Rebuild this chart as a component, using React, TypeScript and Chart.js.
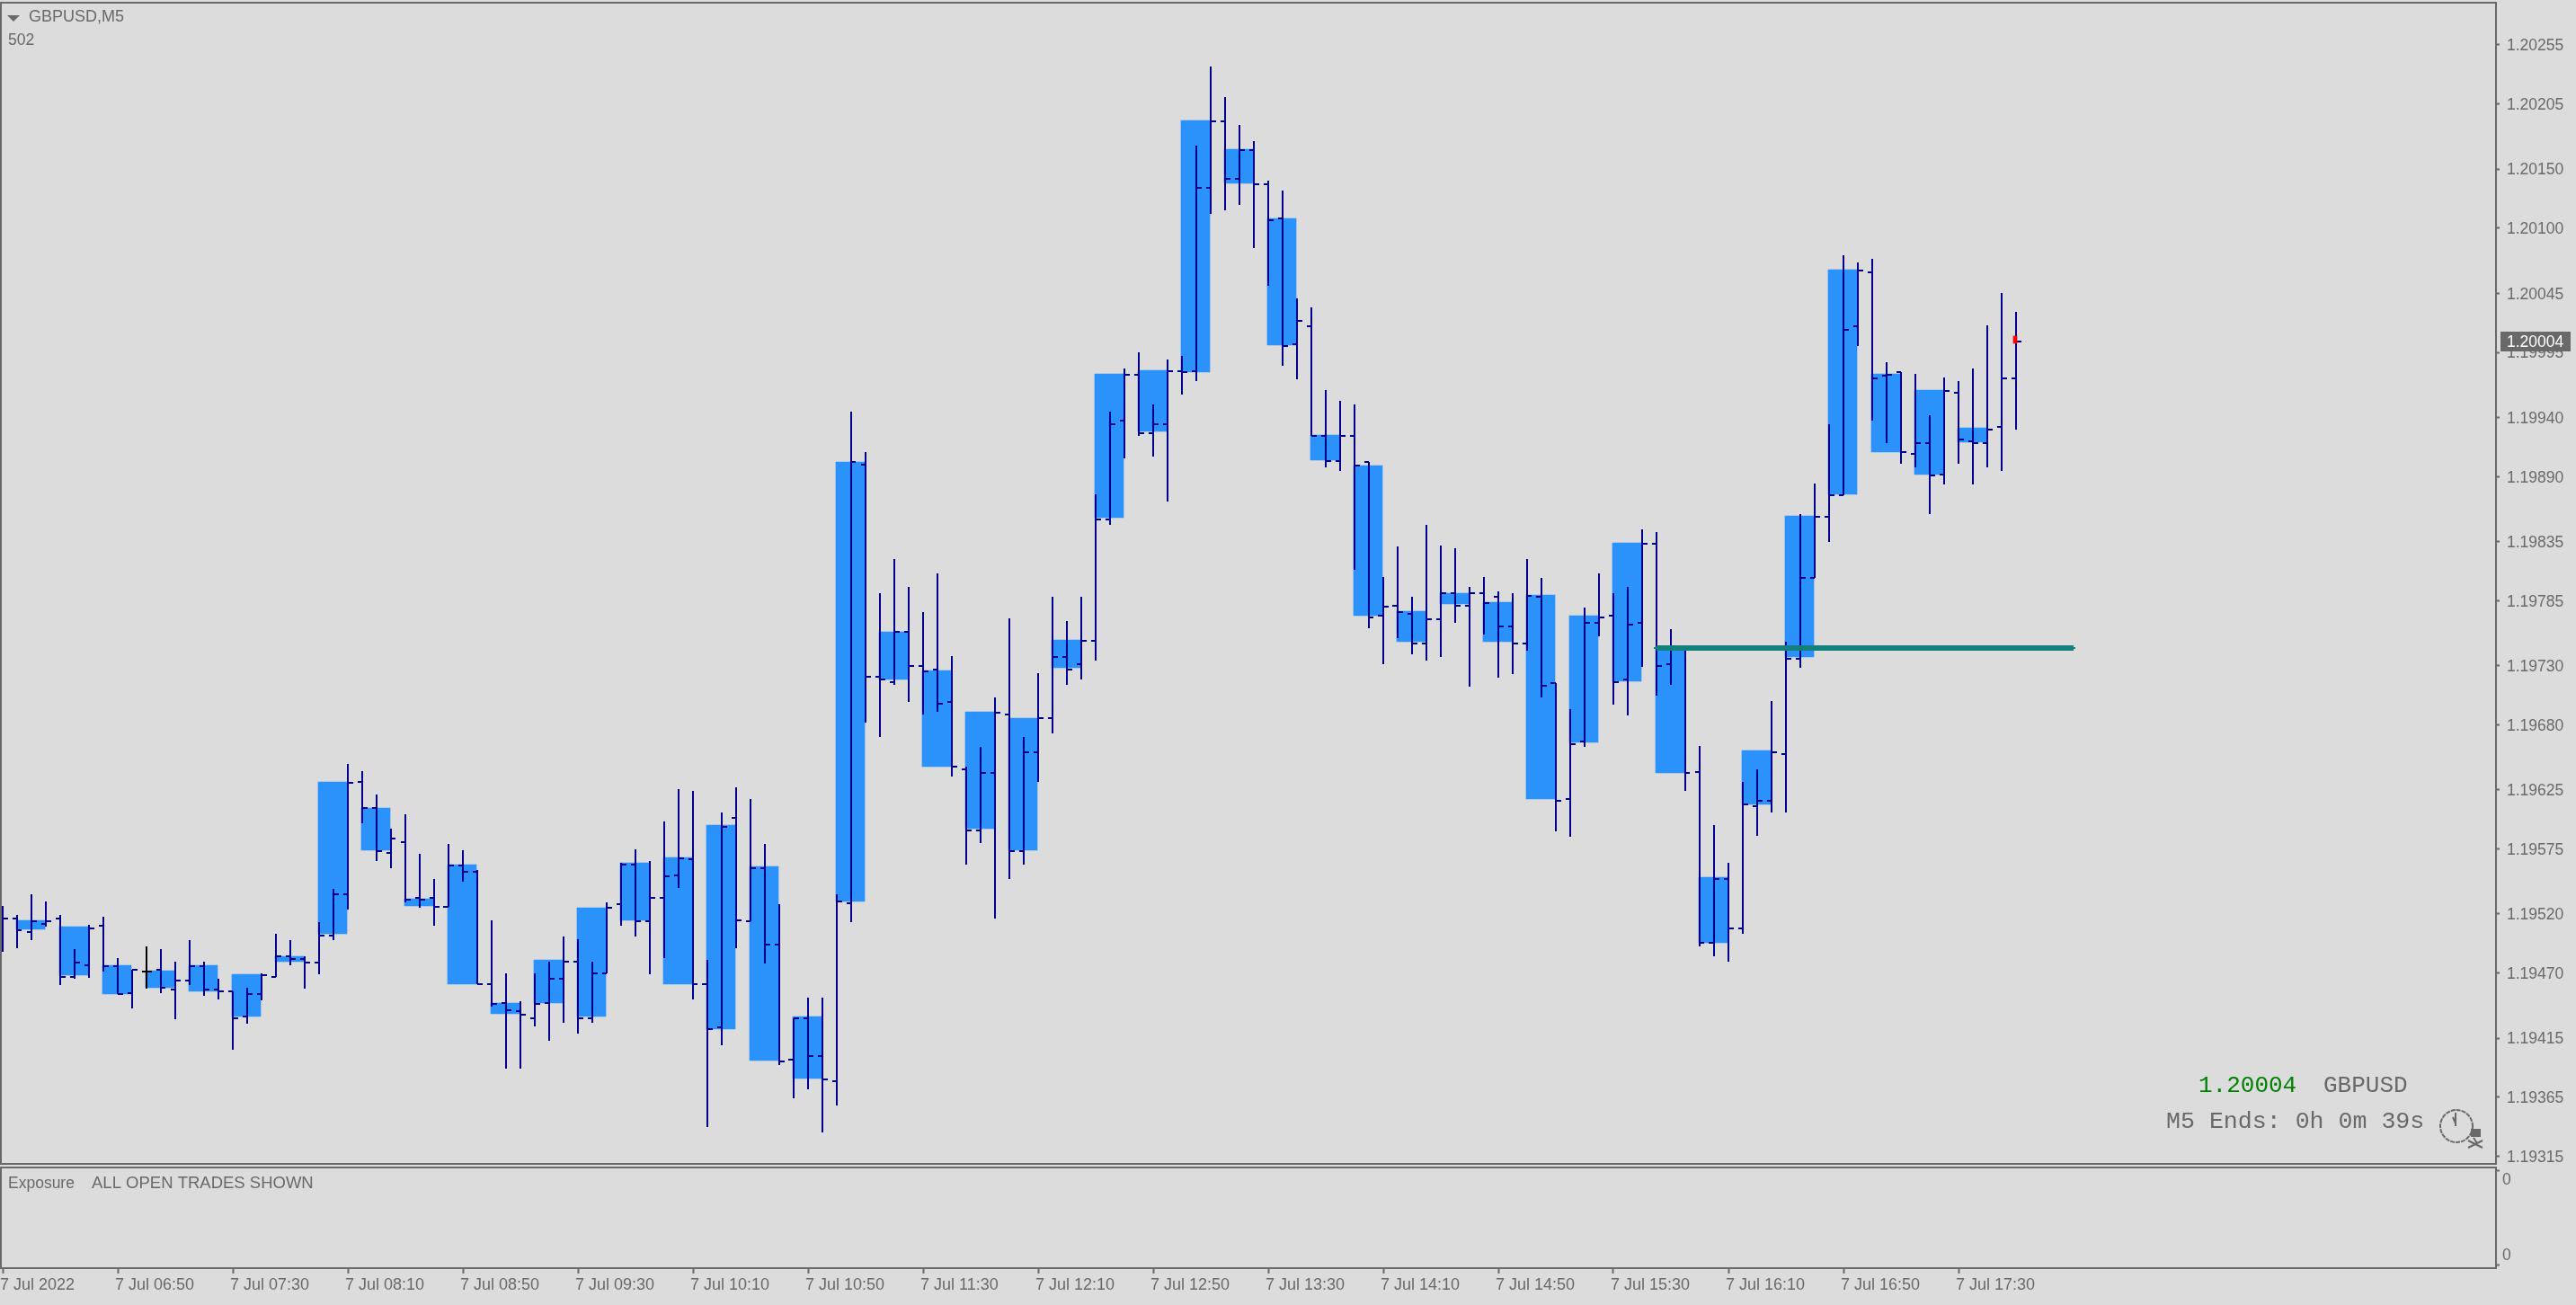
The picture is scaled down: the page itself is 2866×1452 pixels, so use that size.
import React, { useEffect, useRef } from "react";
import { Chart, registerables } from "chart.js";

Chart.register(...registerables);

const opens = [
  1.19518, 1.19516, 1.19505, 1.19512, 1.19516, 1.19467, 1.19477, 1.1951, 1.19476, 1.19453,
  1.19471, 1.19473, 1.19456, 1.19464, 1.19476, 1.19456, 1.19455, 1.19433, 1.19452, 1.19467,
  1.19484, 1.19482, 1.19479, 1.19502, 1.19537, 1.19632, 1.1961, 1.19572, 1.19581, 1.19534,
  1.19534, 1.19526, 1.19561, 1.19556, 1.19461, 1.19445, 1.19438, 1.19432, 1.19445, 1.19465,
  1.1948, 1.19432, 1.1947, 1.19528, 1.19562, 1.19514, 1.19534, 1.19553, 1.19566, 1.19461,
  1.19424, 1.19601, 1.19514, 1.19559, 1.19494, 1.19397, 1.19432, 1.194, 1.19379, 1.19529,
  1.199, 1.19721, 1.19716, 1.19759, 1.1973, 1.19727, 1.19699, 1.19642, 1.19591, 1.19639,
  1.19689, 1.19573, 1.19657, 1.19686, 1.19737, 1.19731, 1.19751, 1.19854, 1.19937, 1.19976,
  1.19927, 1.19934, 1.19979, 1.19979, 1.20134, 1.2019, 1.20142, 1.20166, 1.20137, 1.20108,
  1.20002, 1.20017, 1.19924, 1.19903, 1.19924, 1.19902, 1.19772, 1.19781, 1.19774, 1.19749,
  1.19769, 1.19791, 1.19781, 1.19791, 1.19788, 1.19763, 1.19749, 1.19788, 1.19715, 1.19617,
  1.19666, 1.19766, 1.19772, 1.19718, 1.19766, 1.19833, 1.19731, 1.19745, 1.1964, 1.19496,
  1.1955, 1.19508, 1.19611, 1.19616, 1.19655, 1.19736, 1.19804, 1.19856, 1.19874, 1.20017,
  1.20063, 1.19975, 1.19978, 1.19909, 1.19918, 1.19892, 1.19961, 1.1992, 1.19918, 1.19932,
  1.19973,
];
const highs = [
  1.19527, 1.19519, 1.19537, 1.19531, 1.19519, 1.1949, 1.19511, 1.19518, 1.19483, 1.19473,
  1.19493, 1.1949, 1.1948, 1.19498, 1.1948, 1.19465, 1.19455, 1.19458, 1.1947, 1.19503,
  1.19498, 1.19484, 1.19513, 1.19541, 1.19647, 1.19641, 1.19621, 1.19592, 1.19604, 1.19571,
  1.1955, 1.19579, 1.19574, 1.19557, 1.19515, 1.1947, 1.19446, 1.1947, 1.1948, 1.19501,
  1.19499, 1.1948, 1.1953, 1.19563, 1.19575, 1.19565, 1.19598, 1.19626, 1.19624, 1.19481,
  1.19606, 1.19627, 1.19617, 1.19579, 1.19528, 1.19432, 1.19449, 1.19449, 1.19537, 1.19945,
  1.19911, 1.19791, 1.1982, 1.19797, 1.19775, 1.19808, 1.19738, 1.19645, 1.19661, 1.19703,
  1.1977, 1.1967, 1.19724, 1.19788, 1.19768, 1.19788, 1.19875, 1.19945, 1.19981, 1.19995,
  1.19951, 1.19989, 1.19992, 1.2017, 1.20237, 1.20211, 1.20187, 1.20174, 1.2014, 1.20132,
  1.20041, 1.20033, 1.19963, 1.19954, 1.19951, 1.19902, 1.19805, 1.19831, 1.19788, 1.19849,
  1.19832, 1.19829, 1.19797, 1.19805, 1.19793, 1.19791, 1.1982, 1.19804, 1.19715, 1.19693,
  1.19779, 1.19808, 1.19791, 1.19797, 1.19845, 1.19843, 1.19761, 1.19747, 1.19662, 1.19595,
  1.19563, 1.19632, 1.19642, 1.197, 1.1975, 1.19858, 1.19884, 1.19934, 1.20077, 1.20071,
  1.20074, 1.19987, 1.19978, 1.19977, 1.19942, 1.19974, 1.19971, 1.19981, 1.20018, 1.20045,
  1.20029,
];
const lows = [
  1.19488, 1.19491, 1.19498, 1.19509, 1.1946, 1.19465, 1.19466, 1.19471, 1.19452, 1.1944,
  1.19457, 1.19453, 1.19431, 1.1946, 1.19451, 1.19448, 1.19405, 1.19427, 1.19447, 1.19467,
  1.19477, 1.19457, 1.19469, 1.19498, 1.19524, 1.19597, 1.19565, 1.19559, 1.1953, 1.19525,
  1.1951, 1.19526, 1.19547, 1.19461, 1.19442, 1.19389, 1.19389, 1.19425, 1.19413, 1.19428,
  1.19419, 1.19428, 1.1947, 1.1951, 1.19501, 1.19469, 1.19483, 1.19542, 1.19448, 1.1934,
  1.19409, 1.19491, 1.19514, 1.19478, 1.19392, 1.19364, 1.19372, 1.19335, 1.19358, 1.19513,
  1.19682, 1.1967, 1.19714, 1.19699, 1.19689, 1.19691, 1.19636, 1.19562, 1.1958, 1.19516,
  1.1955, 1.19562, 1.19632, 1.19673, 1.19714, 1.19718, 1.19734, 1.19849, 1.19905, 1.19924,
  1.19907, 1.19869, 1.19959, 1.19971, 1.20112, 1.20115, 1.2012, 1.20083, 1.20051, 1.19984,
  1.19972, 1.19924, 1.19898, 1.19895, 1.19811, 1.19762, 1.19731, 1.19753, 1.1974, 1.19734,
  1.19737, 1.19766, 1.19712, 1.19756, 1.1972, 1.19723, 1.19743, 1.19703, 1.1959, 1.19585,
  1.19661, 1.19755, 1.19697, 1.19688, 1.19729, 1.19705, 1.19714, 1.19624, 1.19493, 1.19484,
  1.1948, 1.19503, 1.19586, 1.19606, 1.19606, 1.19728, 1.19804, 1.19835, 1.19874, 1.2,
  1.19937, 1.19918, 1.19901, 1.19898, 1.19858, 1.19883, 1.19901, 1.19883, 1.19898, 1.19895,
  1.1993,
];
const closes = [
  1.19516, 1.19506, 1.19514, 1.19514, 1.19467, 1.19479, 1.19508, 1.19476, 1.19452, 1.19473,
  1.19471, 1.19458, 1.19464, 1.19476, 1.19456, 1.19455, 1.19432, 1.19452, 1.19468, 1.19484,
  1.19482, 1.19479, 1.19502, 1.19537, 1.19631, 1.1961, 1.19573, 1.19584, 1.19532, 1.19532,
  1.19526, 1.19561, 1.19556, 1.19461, 1.19444, 1.19439, 1.19435, 1.19444, 1.19465, 1.1948,
  1.19432, 1.1947, 1.19525, 1.19562, 1.19514, 1.19534, 1.19552, 1.19567, 1.19461, 1.19423,
  1.19594, 1.19515, 1.19559, 1.19494, 1.19395, 1.19432, 1.194, 1.1938, 1.19531, 1.19902,
  1.19721, 1.19718, 1.19759, 1.1973, 1.19725, 1.19698, 1.19645, 1.19591, 1.19639, 1.1969,
  1.19573, 1.19657, 1.19686, 1.19737, 1.19727, 1.19751, 1.19854, 1.19934, 1.19976, 1.19927,
  1.19934, 1.19979, 1.19978, 1.20134, 1.2019, 1.20142, 1.20166, 1.20137, 1.20107, 1.2,
  1.20022, 1.19924, 1.19903, 1.19924, 1.19899, 1.19771, 1.1978, 1.19775, 1.19749, 1.19769,
  1.19791, 1.19781, 1.19791, 1.19783, 1.19763, 1.19749, 1.19789, 1.19713, 1.19616, 1.19664,
  1.19766, 1.19771, 1.19716, 1.19765, 1.19833, 1.1973, 1.19745, 1.19639, 1.19496, 1.1955,
  1.19508, 1.19613, 1.19616, 1.19657, 1.19736, 1.19804, 1.19856, 1.19874, 1.20014, 1.20064,
  1.19973, 1.19976, 1.19911, 1.19918, 1.19891, 1.19962, 1.19921, 1.19918, 1.1993, 1.19973,
  1.20004,
];
// Quarter-hour bodies: one per three five-minute bars, starting at bar 1.
const bodyTops = [
  1.19515, 1.19509, 1.19477, 1.19472, 1.19477, 1.19469, 1.19484, 1.19632, 1.1961, 1.19533,
  1.19562, 1.19445, 1.19481, 1.19525, 1.19563, 1.19568, 1.19595, 1.1956, 1.19433, 1.19902,
  1.19759, 1.19726, 1.19691, 1.19686, 1.19752, 1.19977, 1.1998, 1.20191, 1.20167, 1.20108,
  1.19925, 1.19899, 1.19776, 1.19791, 1.19784, 1.1979, 1.19772, 1.19834, 1.19746, 1.19551,
  1.19658, 1.19857, 1.20065, 1.19977, 1.19963, 1.19931,
];
const bodyBottoms = [
  1.19507, 1.19468, 1.19452, 1.19458, 1.19455, 1.19433, 1.1948, 1.19503, 1.19574, 1.19527,
  1.19461, 1.19436, 1.19445, 1.19433, 1.19515, 1.19461, 1.19423, 1.19396, 1.19381, 1.19531,
  1.19718, 1.19645, 1.19592, 1.19574, 1.19728, 1.19855, 1.19928, 1.19978, 1.20138, 1.20001,
  1.19904, 1.19772, 1.1975, 1.19782, 1.1975, 1.19617, 1.19665, 1.19717, 1.19639, 1.19496,
  1.19613, 1.19737, 1.19875, 1.19911, 1.19892, 1.19919,
];
const priceTicks = [
  1.20255, 1.20205, 1.2015, 1.201, 1.20045, 1.19995, 1.1994, 1.1989, 1.19835, 1.19785,
  1.1973, 1.1968, 1.19625, 1.19575, 1.1952, 1.1947, 1.19415, 1.19365, 1.19315,
];
const timeLabels = [
  "7 Jul 2022", "7 Jul 06:50", "7 Jul 07:30", "7 Jul 08:10", "7 Jul 08:50", "7 Jul 09:30",
  "7 Jul 10:10", "7 Jul 10:50", "7 Jul 11:30", "7 Jul 12:10", "7 Jul 12:50", "7 Jul 13:30",
  "7 Jul 14:10", "7 Jul 14:50", "7 Jul 15:30", "7 Jul 16:10", "7 Jul 16:50", "7 Jul 17:30",
];
const barsPerTimeLabel = 8;
const lastPrice = 1.20004;
const levelPrice = 1.19745;
const levelFromBar = 115;
const levelToBar = 144;
const redMark = [1.20003, 1.20009];
// Exposure pane scale: marks on the axis and its two labelled zeros.
const exposureMarks = [0.973, 0.027];
const exposureZeros = [0.875, 0.125];

const GREY = "#696969";
const NAVY = "#00008B";
const BODY = "#2A92FA";
const TEAL = "#13807E";
const BG = "#DCDCDC";
const LABEL_FONT = '17.5px "Liberation Sans"';
const PANEL_FONT = '18px "Liberation Sans"';
const MONO_FONT = '26px "Liberation Mono"';
const TIMER_FONT = '26.6px "Liberation Mono"';

const BAR_PX = 16;
const X_MIN = -0.125;
const X_MAX = 173.375;

type Pt = { x: number; y: number | null };

const isDoji = (i: number) => opens[i] === closes[i];

function barSegments(pick: (i: number) => boolean) {
  const wicks: Pt[] = [];
  const ticks: Pt[] = [];
  const tickReach = 5.5 / BAR_PX;
  opens.forEach((o, i) => {
    if (!pick(i)) return;
    wicks.push({ x: i, y: lows[i] }, { x: i, y: highs[i] }, { x: i, y: null });
    ticks.push({ x: i - tickReach, y: o }, { x: i, y: o }, { x: i, y: null });
    ticks.push({ x: i, y: closes[i] }, { x: i + tickReach, y: closes[i] }, { x: i, y: null });
  });
  return [...wicks, ...ticks];
}

const lineSet = (label: string, data: Pt[], color: string, width: number, order: number) => ({
  type: "scatter" as const,
  label,
  data,
  showLine: true,
  spanGaps: false,
  borderColor: color,
  backgroundColor: color,
  borderWidth: width,
  borderCapStyle: "butt" as const,
  pointRadius: 0,
  pointHoverRadius: 0,
  order,
});

// Keeps thin strokes on the pixel grid, as the terminal draws them.
const snapPlugin = {
  id: "snap",
  afterDatasetsUpdate(chart: any) {
    chart.getSortedVisibleDatasetMetas().forEach((meta: any) => {
      meta.data.forEach((el: any) => {
        if (meta.type === "bar") {
          el.y = Math.round(el.y);
          el.base = Math.round(el.base);
          el.height = el.base - el.y;
        } else if (el.y === el.y) {
          el.y = Math.round(el.y);
          el.x = Math.round(el.x);
        }
      });
    });
  },
};

const backdropPlugin = {
  id: "backdrop",
  beforeDraw(chart: any) {
    const { ctx, width, height } = chart;
    ctx.save();
    ctx.fillStyle = BG;
    ctx.fillRect(0, 0, width, height);
    ctx.restore();
  },
  afterDraw(chart: any) {
    const { ctx, chartArea: a } = chart;
    ctx.save();
    ctx.strokeStyle = GREY;
    ctx.lineWidth = 2;
    ctx.strokeRect(a.left, a.top, a.right - a.left, a.bottom - a.top);
    ctx.restore();
  },
};

const mainOverlay = {
  id: "mainOverlay",
  afterDraw(chart: any) {
    const { ctx } = chart;
    const yScale = chart.scales.y;
    ctx.save();
    ctx.textBaseline = "middle";
    ctx.textAlign = "left";
    // pane caption
    ctx.fillStyle = GREY;
    ctx.beginPath();
    ctx.moveTo(8, 17);
    ctx.lineTo(22, 17);
    ctx.lineTo(15, 24);
    ctx.closePath();
    ctx.fill();
    ctx.font = PANEL_FONT;
    ctx.fillText("GBPUSD,M5", 32, 19);
    ctx.font = LABEL_FONT;
    ctx.fillText("502", 9, 45);
    // last price tag
    const py = Math.round(yScale.getPixelForValue(lastPrice));
    ctx.fillStyle = GREY;
    ctx.fillRect(2782, py - 11, 78, 22);
    ctx.fillStyle = "#FFFFFF";
    ctx.font = LABEL_FONT;
    ctx.fillText(lastPrice.toFixed(5), 2789, py + 1);
    // timer block
    ctx.font = MONO_FONT;
    ctx.fillStyle = "#008000";
    ctx.fillText(lastPrice.toFixed(5), 2446, 1208);
    ctx.fillStyle = GREY;
    ctx.fillText("GBPUSD", 2585, 1208);
    ctx.font = TIMER_FONT;
    ctx.fillText("M5 Ends: 0h 0m 39s", 2410, 1248);
    // clock glyph
    ctx.strokeStyle = GREY;
    ctx.lineWidth = 2;
    ctx.setLineDash([5, 1]);
    ctx.beginPath();
    ctx.arc(2733, 1253, 18, 0, Math.PI * 2);
    ctx.stroke();
    ctx.setLineDash([]);
    ctx.beginPath();
    ctx.moveTo(2732, 1238);
    ctx.lineTo(2732, 1253);
    ctx.moveTo(2729, 1243);
    ctx.lineTo(2732, 1250);
    ctx.moveTo(2746, 1269);
    ctx.lineTo(2762, 1277);
    ctx.moveTo(2762, 1269);
    ctx.lineTo(2746, 1277);
    ctx.moveTo(2752, 1266);
    ctx.lineTo(2756, 1272);
    ctx.stroke();
    ctx.fillRect(2749, 1256, 11, 9);
    ctx.restore();
  },
};

const subOverlay = {
  id: "subOverlay",
  afterDraw(chart: any) {
    const { ctx } = chart;
    ctx.save();
    ctx.textBaseline = "middle";
    ctx.textAlign = "left";
    ctx.fillStyle = GREY;
    ctx.font = LABEL_FONT;
    ctx.fillText("Exposure", 9, 19);
    ctx.font = '18.5px "Liberation Sans"';
    ctx.fillText("ALL OPEN TRADES SHOWN", 102, 19);
    ctx.restore();
  },
};

const fitY = (s: any) => {
  s.width = 89;
  s.paddingTop = 0;
  s.paddingBottom = 0;
};

export default function App() {
  const mainRef = useRef<HTMLCanvasElement>(null);
  const subRef = useRef<HTMLCanvasElement>(null);

  useEffect(() => {
    document.body.style.margin = "0";
    document.body.style.background = BG;

    const bodies = bodyTops.map((top, k) => ({
      x: 1 + 3 * k + 15 / BAR_PX,
      y: [bodyBottoms[k], top],
    }));

    const main = new Chart(mainRef.current!, {
      type: "bar",
      data: {
        datasets: [
          {
            type: "bar",
            label: "M15 bodies",
            data: bodies as any,
            backgroundColor: BODY,
            borderWidth: 0,
            barThickness: 32,
            grouped: false,
            order: 5,
          },
          lineSet("M5 bars", barSegments((i) => !isDoji(i)), NAVY, 2, 4),
          lineSet("M5 doji", barSegments(isDoji), "#000000", 2, 3),
          {
            type: "bar",
            label: "Tick",
            data: [{ x: 140 - 1 / BAR_PX, y: redMark }] as any,
            backgroundColor: "#FF0000",
            borderWidth: 0,
            barThickness: 4,
            grouped: false,
            order: 2,
          },
          lineSet(
            "Level ends",
            [
              { x: levelFromBar - 3 / BAR_PX, y: levelPrice },
              { x: levelToBar + 2 / BAR_PX, y: levelPrice },
            ],
            TEAL,
            2,
            1
          ),
          lineSet(
            "Level",
            [
              { x: levelFromBar, y: levelPrice },
              { x: levelToBar, y: levelPrice },
            ],
            TEAL,
            6,
            0
          ),
        ] as any,
      },
      options: {
        responsive: false,
        animation: false,
        devicePixelRatio: 1,
        layout: { padding: { left: 1, top: 3, bottom: 3, right: 0 } },
        plugins: { legend: { display: false }, tooltip: { enabled: false } },
        events: [],
        scales: {
          x: {
            type: "linear",
            display: false,
            min: X_MIN,
            max: X_MAX,
            offset: false,
          },
          y: {
            position: "right",
            min: 1.193087,
            max: 1.202907,
            afterFit: fitY,
            afterBuildTicks: (s: any) => {
              s.ticks = priceTicks.map((value) => ({ value }));
            },
            border: { display: false },
            grid: {
              drawOnChartArea: false,
              tickLength: 4,
              tickWidth: 2,
              tickColor: GREY,
            },
            ticks: {
              autoSkip: false,
              padding: 8,
              labelOffset: 1.5,
              color: GREY,
              font: { family: "Liberation Sans", size: 17.5 },
              callback: (v: any) => Number(v).toFixed(5),
            },
          },
        },
      } as any,
      plugins: [snapPlugin, backdropPlugin, mainOverlay],
    });

    const sub = new Chart(subRef.current!, {
      type: "scatter",
      data: { datasets: [] },
      options: {
        responsive: false,
        animation: false,
        devicePixelRatio: 1,
        layout: { padding: { left: 1, top: 1, right: 0, bottom: 0 } },
        plugins: { legend: { display: false }, tooltip: { enabled: false } },
        events: [],
        scales: {
          x: {
            type: "linear",
            min: X_MIN,
            max: X_MAX,
            afterFit: (s: any) => {
              s.height = 41;
              s.paddingLeft = 0;
              s.paddingRight = 0;
            },
            afterBuildTicks: (s: any) => {
              s.ticks = timeLabels.map((_, k) => ({ value: k * barsPerTimeLabel }));
            },
            border: { display: false },
            grid: {
              drawOnChartArea: false,
              tickLength: 6,
              tickWidth: 2,
              tickColor: GREY,
            },
            ticks: {
              autoSkip: false,
              maxRotation: 0,
              minRotation: 0,
              align: "start",
              labelOffset: -3,
              padding: 2,
              color: GREY,
              font: { family: "Liberation Sans", size: 18 },
              callback: (_: any, i: number) => timeLabels[i],
            },
          },
          y: {
            position: "right",
            min: 0,
            max: 1,
            afterFit: fitY,
            afterBuildTicks: (s: any) => {
              s.ticks = [...exposureMarks, ...exposureZeros].map((value) => ({ value }));
            },
            border: { display: false },
            grid: {
              drawOnChartArea: false,
              tickLength: 4,
              tickWidth: 2,
              tickColor: (c: any) =>
                exposureMarks.includes(c.tick?.value) ? GREY : "rgba(0,0,0,0)",
            },
            ticks: {
              autoSkip: false,
              padding: 3,
              color: GREY,
              font: { family: "Liberation Sans", size: 17.5 },
              callback: (v: any) => (exposureZeros.includes(v) ? "0" : ""),
            },
          },
        },
      } as any,
      plugins: [backdropPlugin, subOverlay],
    });

    return () => {
      main.destroy();
      sub.destroy();
    };
  }, []);

  return (
    <div style={{ position: "relative", width: 2866, height: 1452, overflow: "hidden", background: BG }}>
      <canvas ref={mainRef} width={2866} height={1298} style={{ position: "absolute", left: 0, top: 0, width: 2866, height: 1298 }} />
      <canvas ref={subRef} width={2866} height={154} style={{ position: "absolute", left: 0, top: 1298, width: 2866, height: 154 }} />
    </div>
  );
}
